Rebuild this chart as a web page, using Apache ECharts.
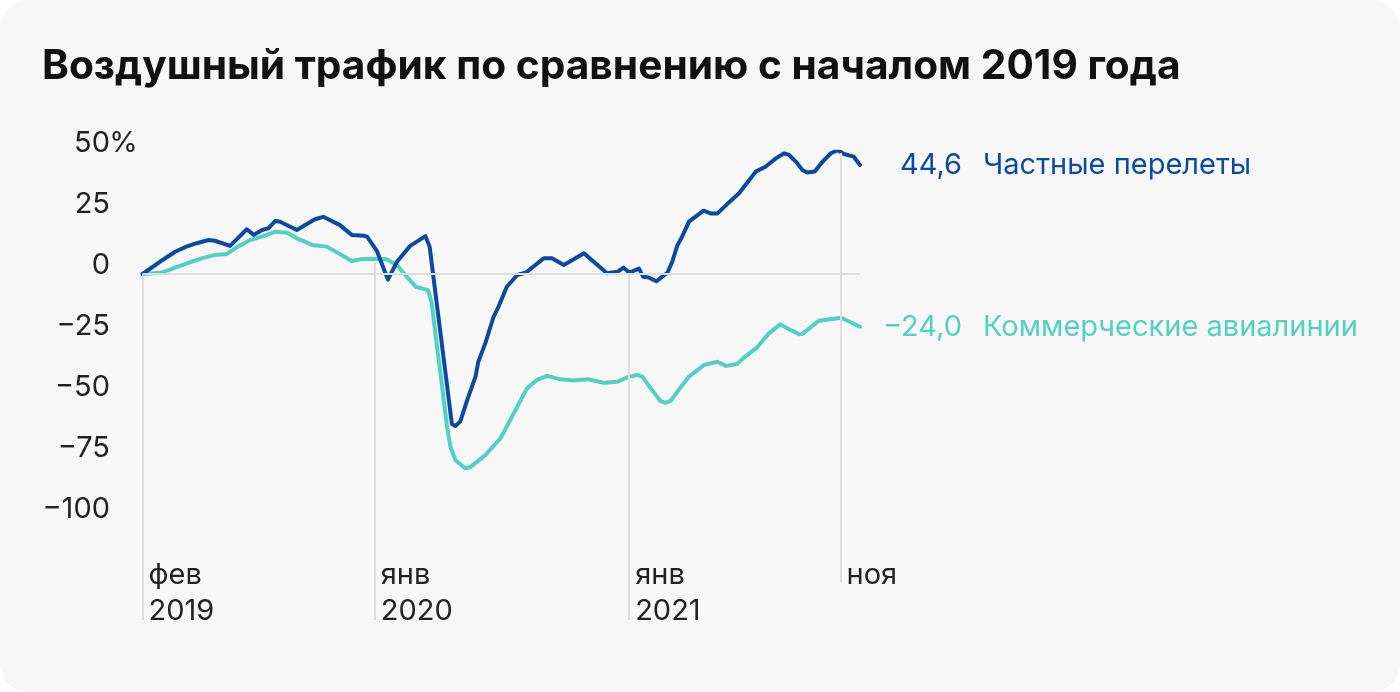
<!DOCTYPE html>
<html>
<head>
<meta charset="utf-8">
<script src="https://cdn.jsdelivr.net/npm/echarts@6/dist/echarts.min.js"></script>
<style>
  html, body { margin: 0; padding: 0; background: #ffffff; }
  #card { position: absolute; left: 0; top: 0; width: 1400px; height: 692px; background: #f7f7f7; border-radius: 28px; overflow: hidden; }
  #chart { width: 1400px; height: 692px; }
</style>
</head>
<body>
<div id="card"><div id="chart"></div></div>
<script>
// ---- Data ----
const titleText = 'Воздушный трафик по сравнению с началом 2019 года';

const privateName = 'Частные перелеты';
const privateLast = '44,6';
const privateDates = [
  '2019-02-01','2019-02-26','2019-03-20','2019-04-05','2019-04-20','2019-05-07','2019-05-16','2019-06-07',
  '2019-07-01','2019-07-11','2019-07-23','2019-08-01','2019-08-11','2019-08-18','2019-09-11','2019-10-07',
  '2019-10-19','2019-11-12','2019-11-29','2019-12-16','2019-12-21','2020-01-04','2020-01-20','2020-02-02',
  '2020-02-21','2020-03-14','2020-03-20','2020-04-21','2020-04-26','2020-05-03','2020-05-13','2020-05-25',
  '2020-05-29','2020-06-08','2020-06-20','2020-06-27','2020-07-09','2020-07-24','2020-08-02','2020-08-07',
  '2020-08-31','2020-09-12','2020-09-29','2020-10-28','2020-11-30','2020-12-15','2020-12-24','2021-01-01',
  '2021-01-15','2021-01-21','2021-01-29','2021-02-09','2021-02-25','2021-03-04','2021-03-11','2021-03-17',
  '2021-03-28','2021-04-18','2021-04-28','2021-05-08','2021-05-22','2021-06-08','2021-06-20','2021-07-02',
  '2021-07-16','2021-07-31','2021-08-12','2021-08-19','2021-08-29','2021-09-07','2021-09-14','2021-09-25',
  '2021-10-06','2021-10-18','2021-10-28','2021-11-06','2021-11-20','2021-11-29'
];
const privateValues = [
  0, 5.0, 9.1, 11.2, 12.6, 13.9, 13.6, 11.5,
  18.3, 16.0, 18.0, 18.7, 21.7, 21.4, 18.0, 22.4,
  23.4, 20.0, 16.0, 15.7, 15.3, 9.5, -2.3, 5.0,
  11.5, 15.5, 11.2, -61.4, -62.2, -60.4, -51.6, -42.0,
  -35.9, -28.4, -17.5, -13.4, -5.2, -0.4, 0.3, 0.9,
  6.4, 6.4, 3.7, 8.5, 0.3, 0.9, 2.6, 0.6,
  2.2, -1.1, -1.4, -3.0, 0.5, 5.0, 11.5, 14.6,
  21.4, 25.9, 24.8, 24.8, 28.6, 33.0, 37.4, 41.9,
  43.9, 47.3, 49.4, 48.7, 45.9, 42.6, 41.5, 41.9,
  45.9, 49.4, 50.7, 49.1, 48.0, 44.6
];

const commercialName = 'Коммерческие авиалинии';
const commercialLast = '−24,0';
const commercialDates = [
  '2019-02-01','2019-02-28','2019-03-17','2019-04-08','2019-04-27','2019-05-16','2019-06-02','2019-06-18',
  '2019-07-06','2019-07-25','2019-08-11','2019-08-28','2019-09-11','2019-10-03','2019-10-24','2019-11-10',
  '2019-11-29','2019-12-11','2019-12-26','2020-01-18','2020-02-02','2020-02-16','2020-02-29','2020-03-14',
  '2020-03-18','2020-03-23','2020-03-30','2020-04-07','2020-04-14','2020-04-19','2020-04-26','2020-05-10',
  '2020-05-17','2020-06-08','2020-06-30','2020-07-19','2020-08-07','2020-08-21','2020-09-05','2020-09-24',
  '2020-10-13','2020-11-04','2020-11-25','2020-12-15','2021-01-01','2021-01-13','2021-01-20','2021-02-01',
  '2021-02-15','2021-02-22','2021-03-02','2021-03-13','2021-03-28','2021-04-19','2021-05-08','2021-05-20',
  '2021-06-05','2021-06-17','2021-07-04','2021-07-21','2021-08-06','2021-08-19','2021-09-03','2021-09-07',
  '2021-10-01','2021-11-02','2021-11-29'
];
const commercialValues = [
  0, 0.5, 2.3, 4.6, 6.4, 7.8, 8.2, 11.2,
  13.9, 15.5, 17.3, 16.9, 14.6, 11.9, 11.2, 8.5,
  5.3, 6.0, 6.2, 6.0, 3.7, -1.1, -5.2, -6.3,
  -6.7, -12.0, -28.4, -46.1, -62.5, -70.7, -76.1, -79.5,
  -79.1, -74.1, -67.2, -57.0, -46.8, -43.4, -41.7, -43.1,
  -43.6, -43.1, -44.5, -44.1, -42.0, -41.3, -42.0, -46.8,
  -52.0, -52.7, -51.8, -47.5, -42.0, -37.2, -35.9, -37.6,
  -36.8, -33.8, -30.0, -24.3, -20.6, -22.6, -24.7, -24.5,
  -19.1, -17.9, -21.6
];

// x tick marks (dates) and their labels
const tickDates  = ['2019-02-01', '2020-01-01', '2021-01-01', '2021-11-01'];
const tickLabels = ['фев\n2019', 'янв\n2020', 'янв\n2021', 'ноя'];
// y tick labels
const yTicks = [50, 25, 0, -25, -50, -75, -100];

// ---- Styling ----
const BLUE = '#0a4ba1';
const TEAL = '#52d0c4';
const GRID = '#dddddd';
const TEXT = '#222222';
const FONT = 'Inter, "Noto Sans", sans-serif';
const FS = 29;

const parse = d => echarts.number.parseDate(d).getTime();
const tickTimes = tickDates.map(parse);
const xMin = parse(privateDates[0]);
const xMax = parse(privateDates[privateDates.length - 1]);

// where each vertical tick line starts and ends (in y-axis units) - gridline styling
const tickTop = [0, 5, 0, 49.5];
const tickBottom = [-141.6, -141.6, -141.6, -126];

const pairs = (ds, vs) => ds.map((d, i) => [parse(d), vs[i]]);

const markData = tickTimes.map((t, i) => [
  { coord: [t, tickTop[i]] },
  { coord: [t, tickBottom[i]] }
]);
markData.push([{ coord: [xMin, 0] }, { coord: [xMax, 0] }]);

const endLabel = (value, name, color) => ({
  show: true,
  distance: 22,
  formatter: '{v|' + value + '}{n|' + name + '}',
  rich: {
    v: { fontFamily: FONT, fontSize: FS, color: color, width: 80, align: 'right' },
    n: { fontFamily: FONT, fontSize: FS, color: color, align: 'right', padding: [0, 0, 0, 21] }
  }
});

const chart = echarts.init(document.getElementById('chart'), null, { renderer: 'canvas' });

chart.setOption({
  backgroundColor: 'transparent',
  animation: false,
  title: {
    text: titleText,
    left: 37,
    top: 41,
    textStyle: { fontFamily: FONT, fontSize: 40.7, fontWeight: 700, color: '#111111' }
  },
  grid: { left: 142.5, right: 540, top: 151.8, bottom: 51.4, containLabel: false },
  xAxis: {
    type: 'value',
    min: xMin,
    max: xMax,
    axisLine: { show: false },
    axisTick: { show: false },
    splitLine: { show: false },
    axisLabel: {
      show: true,
      customValues: tickTimes,
      showMinLabel: true,
      showMaxLabel: true,
      hideOverlap: false,
      inside: true,
      margin: 83,
      align: 'left',
      verticalAlign: 'top',
      padding: [0, 0, 0, 6],
      lineHeight: 36,
      fontFamily: FONT,
      fontSize: FS,
      color: TEXT,
      formatter: function (value) {
        const idx = tickTimes.indexOf(value);
        return idx >= 0 ? tickLabels[idx] : '';
      }
    }
  },
  yAxis: {
    type: 'value',
    min: -150,
    max: 50,
    interval: 25,
    axisLine: { show: false },
    axisTick: { show: false },
    splitLine: { show: false },
    axisLabel: {
      margin: 5.5,
      verticalAlign: 'middle',
      padding: [0, 0, 18, 0],
      lineHeight: 29,
      formatter: function (v) {
        if (yTicks.indexOf(v) < 0) return '';
        const s = (v < 0 ? '−' + Math.abs(v) : String(v));
        return v === 50 ? '{n|' + s + '}{p|%}' : '{n|' + s + '}{p|\u00a0}';
      },
      rich: {
        n: { fontFamily: FONT, fontSize: FS, color: TEXT, lineHeight: 29 },
        p: { fontFamily: FONT, fontSize: FS, color: TEXT, width: 27, align: 'left', lineHeight: 29 }
      }
    }
  },
  series: [
    {
      type: 'line',
      data: [],
      silent: true,
      z: 1,
      markLine: {
        silent: true,
        animation: false,
        symbol: ['none', 'none'],
        label: { show: false },
        lineStyle: { type: 'solid', color: GRID, width: 2 },
        data: markData
      }
    },
    {
      name: commercialName,
      type: 'line',
      z: 3,
      data: pairs(commercialDates, commercialValues),
      showSymbol: false,
      lineStyle: { color: TEAL, width: 4, join: 'round', cap: 'round' },
      itemStyle: { color: TEAL },
      endLabel: endLabel(commercialLast, commercialName, TEAL)
    },
    {
      name: privateName,
      type: 'line',
      z: 4,
      data: pairs(privateDates, privateValues),
      showSymbol: false,
      lineStyle: { color: BLUE, width: 4, join: 'round', cap: 'round' },
      itemStyle: { color: BLUE },
      endLabel: endLabel(privateLast, privateName, BLUE)
    }
  ]
});
</script>
</body>
</html>
